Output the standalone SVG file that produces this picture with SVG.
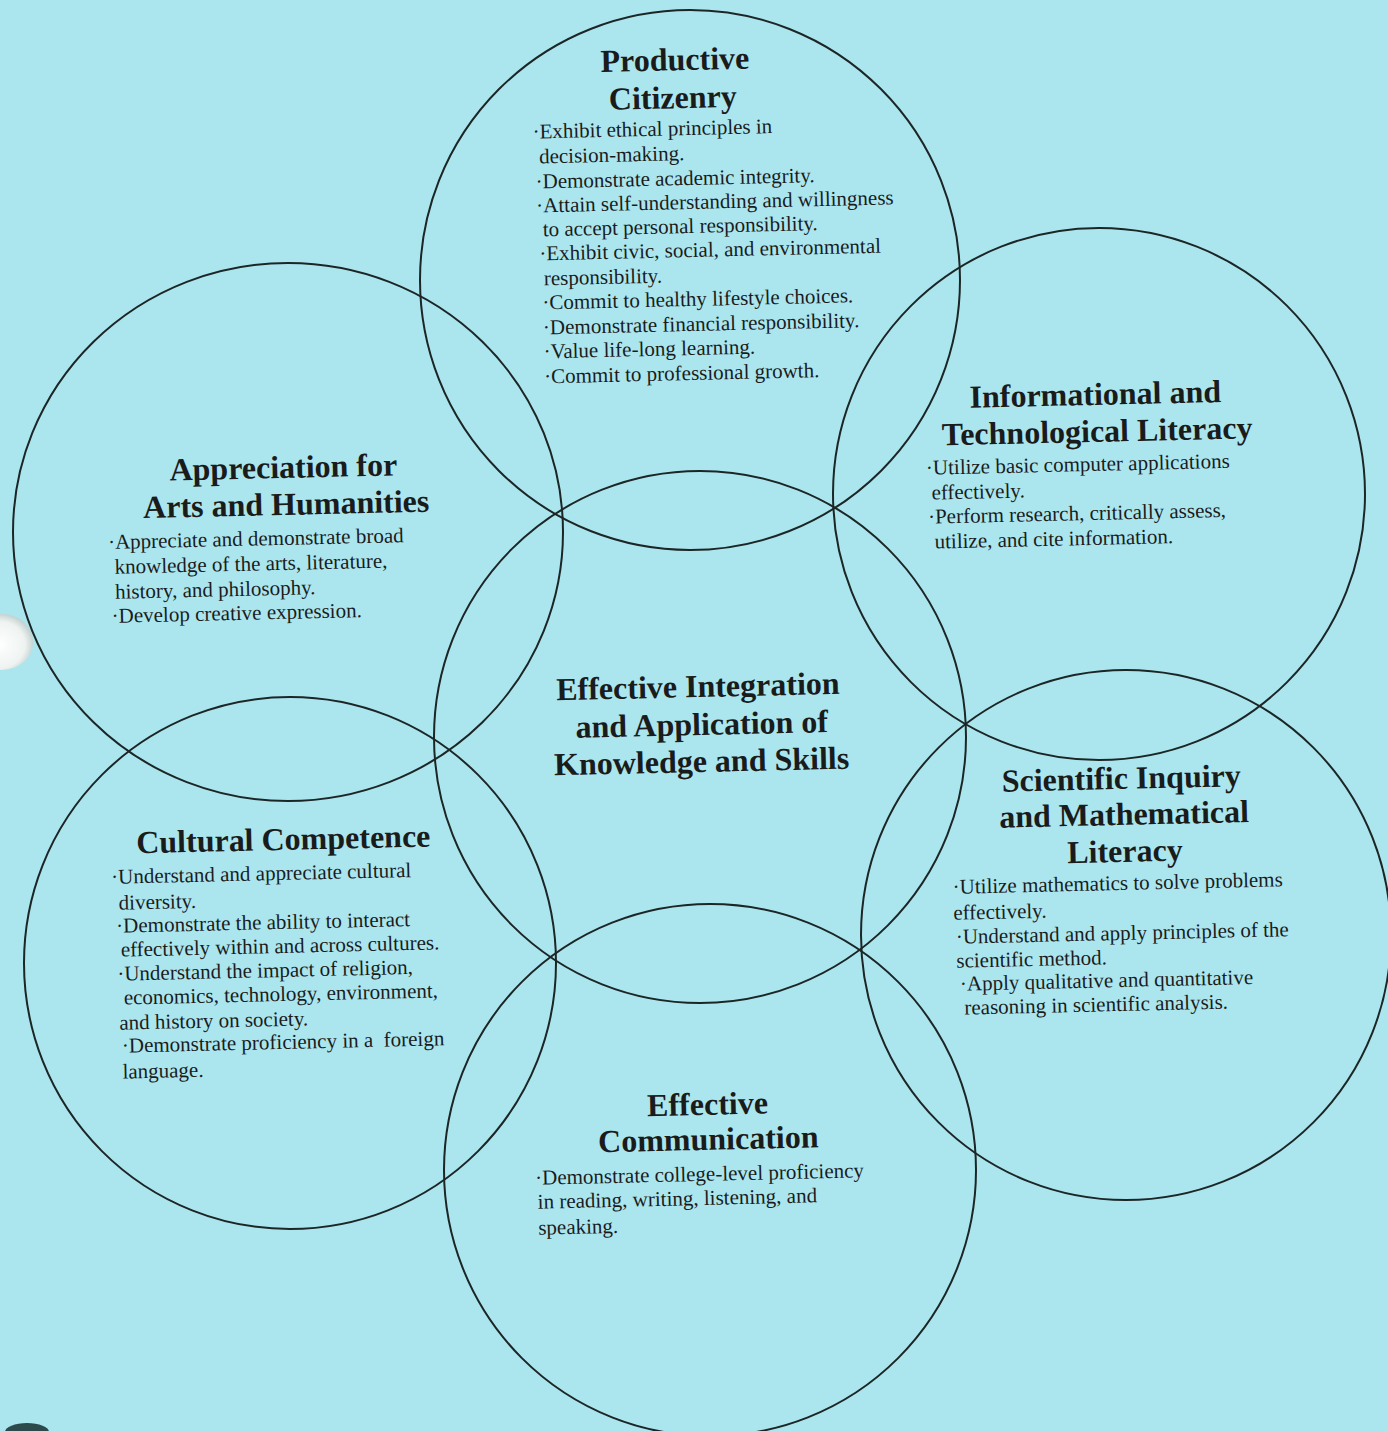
<svg xmlns="http://www.w3.org/2000/svg" width="1388" height="1431" viewBox="0 0 1388 1431">
<style>
.c{fill:none;stroke:#1d2626;stroke-width:2}
.h{font-family:"Liberation Serif","Times New Roman",serif;font-weight:bold;font-size:32px;fill:#1a1c1c;text-anchor:middle}
.b{font-family:"Liberation Serif","Times New Roman",serif;font-size:21px;fill:#1a1c1c}
</style>
<defs>
<radialGradient id="hole" cx="0.45" cy="0.55" r="0.6">
<stop offset="0" stop-color="#ffffff"/>
<stop offset="0.7" stop-color="#eef3f1"/>
<stop offset="1" stop-color="#b9c8c6"/>
</radialGradient>
</defs>
<rect width="1388" height="1431" fill="#abe6ef"/>
<ellipse cx="2" cy="642" rx="31" ry="28" fill="url(#hole)"/>
<ellipse cx="27" cy="1432" rx="22" ry="9" fill="#2c4a4c"/>
<g id="connectors"></g>
<g id="productive-citizenry">
<circle class="c" cx="690" cy="280" r="270"/>
<g transform="rotate(-1.3 690 240)">
<text class="h" x="679" y="70">Productive</text>
<text class="h" x="676" y="108">Citizenry</text>
<text class="b" x="535" y="135">·Exhibit ethical principles in</text>
<text class="b" x="541" y="160">decision-making.</text>
<text class="b" x="537" y="185">·Demonstrate academic integrity.</text>
<text class="b" x="537" y="209">·Attain self-understanding and willingness</text>
<text class="b" x="543" y="233">to accept personal responsibility.</text>
<text class="b" x="539" y="257">·Exhibit civic, social, and environmental</text>
<text class="b" x="543" y="282">responsibility.</text>
<text class="b" x="541" y="306">·Commit to healthy lifestyle choices.</text>
<text class="b" x="541" y="331">·Demonstrate financial responsibility.</text>
<text class="b" x="541" y="355">·Value life-long learning.</text>
<text class="b" x="541" y="380">·Commit to professional growth.</text>
</g>
</g>
<g id="informational-literacy">
<circle class="c" cx="1099" cy="494" r="266"/>
<g transform="rotate(-1.3 1090 470)">
<text class="h" x="1097" y="405">Informational and</text>
<text class="h" x="1098" y="442">Technological Literacy</text>
<text class="b" x="926" y="471">·Utilize basic computer applications</text>
<text class="b" x="931" y="496">effectively.</text>
<text class="b" x="927" y="520">·Perform research, critically assess,</text>
<text class="b" x="933" y="545">utilize, and cite information.</text>
</g>
</g>
<g id="arts-humanities">
<ellipse class="c" cx="288" cy="532" rx="275" ry="269"/>
<g transform="rotate(-1.3 280 540)">
<text class="h" x="285" y="478">Appreciation for</text>
<text class="h" x="287" y="515">Arts and Humanities</text>
<text class="b" x="108" y="545">·Appreciate and demonstrate broad</text>
<text class="b" x="114" y="570">knowledge of the arts, literature,</text>
<text class="b" x="114" y="595">history, and philosophy.</text>
<text class="b" x="110" y="619">·Develop creative expression.</text>
</g>
</g>
<g id="integration">
<circle class="c" cx="700" cy="737" r="266"/>
<g transform="rotate(-1.3 700 735)">
<text class="h" x="699" y="697">Effective Integration</text>
<text class="h" x="702" y="735">and Application of</text>
<text class="h" x="701" y="772">Knowledge and Skills</text>
</g>
</g>
<g id="cultural-competence">
<circle class="c" cx="290" cy="963" r="266"/>
<g transform="rotate(-1.3 280 960)">
<text class="h" x="286" y="850">Cultural Competence</text>
<text class="b" x="113" y="880">·Understand and appreciate cultural</text>
<text class="b" x="120" y="906">diversity.</text>
<text class="b" x="117" y="929">·Demonstrate the ability to interact</text>
<text class="b" x="121" y="953">effectively within and across cultures.</text>
<text class="b" x="117" y="977">·Understand the impact of religion,</text>
<text class="b" x="123" y="1001">economics, technology, environment,</text>
<text class="b" x="118" y="1026">and history on society.</text>
<text class="b" x="120" y="1049">·Demonstrate proficiency in a&#160; foreign</text>
<text class="b" x="120" y="1075">language.</text>
</g>
</g>
<g id="scientific-inquiry">
<circle class="c" cx="1126" cy="935" r="265"/>
<g transform="rotate(-1.3 1120 900)">
<text class="h" x="1124" y="789">Scientific Inquiry</text>
<text class="h" x="1126" y="825">and Mathematical</text>
<text class="h" x="1126" y="862">Literacy</text>
<text class="b" x="953" y="890">·Utilize mathematics to solve problems</text>
<text class="b" x="953" y="916">effectively.</text>
<text class="b" x="955" y="940">·Understand and apply principles of the</text>
<text class="b" x="955" y="964">scientific method.</text>
<text class="b" x="958" y="987">·Apply qualitative and quantitative</text>
<text class="b" x="962" y="1011">reasoning in scientific analysis.</text>
</g>
</g>
<g id="effective-communication">
<circle class="c" cx="710" cy="1170" r="266"/>
<g transform="rotate(-1.3 700 1170)">
<text class="h" x="709" y="1115">Effective</text>
<text class="h" x="709" y="1150">Communication</text>
<text class="b" x="535" y="1181">·Demonstrate college-level proficiency</text>
<text class="b" x="537" y="1205">in reading, writing, listening, and</text>
<text class="b" x="537" y="1231">speaking.</text>
</g>
</g>
</svg>
